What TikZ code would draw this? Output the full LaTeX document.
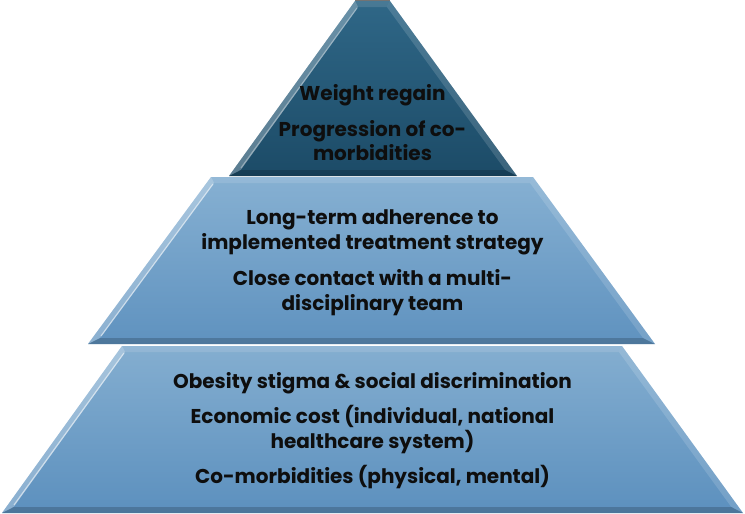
\documentclass[tikz,border=0pt]{standalone}
\usepackage{fontspec}
\setmainfont{Poppins}
\usetikzlibrary{calc}
\definecolor{topA}{HTML}{2F6787}
\definecolor{topB}{HTML}{1C4B67}
\definecolor{midA}{HTML}{86B0D2}
\definecolor{midB}{HTML}{5F92BF}
\definecolor{botA}{HTML}{84AED0}
\definecolor{botB}{HTML}{5C90BE}
\definecolor{txt}{HTML}{0E0E0E}
\tikzset{
  lbl/.style={anchor=base, text=txt, font=\bfseries\fontsize{20}{24}\selectfont, inner sep=0pt},
  lightband/.style={fill=white, fill opacity=0.28, draw=none},
  rightband/.style={fill=white, fill opacity=0.14, draw=none},
  darkband/.style={fill=black, fill opacity=0.18, draw=none},
  topband/.style={fill=white, fill opacity=0.12, draw=none},
  shine/.style={draw=white, draw opacity=0.55, line width=1.2pt}
}
\begin{document}
\begin{tikzpicture}[x=1pt,y=-1pt]
\useasboundingbox (0,0) rectangle (745,514);
% ---------- bottom tier ----------
\shade[top color=botA, bottom color=botB] (122,346) -- (622,346) -- (743,513) -- (2,513) -- cycle;
\fill[lightband] (122,346) -- (125.1,352) -- (13.7,507) -- (2,513) -- cycle;
\fill[rightband] (622,346) -- (743,513) -- (731.3,507) -- (618.9,352) -- cycle;
\fill[darkband] (2,513) -- (743,513) -- (731.3,507) -- (13.7,507) -- cycle;
\fill[topband] (122,346) -- (622,346) -- (618.9,352) -- (125.1,352) -- cycle;
\draw[shine] (124,353) -- (14,505);
% ---------- middle tier ----------
\shade[top color=midA, bottom color=midB] (211,177) -- (533,177) -- (655,344) -- (88,344) -- cycle;
\fill[lightband] (211,177) -- (214,183) -- (100,338) -- (88,344) -- cycle;
\fill[rightband] (533,177) -- (655,344) -- (643,338) -- (530,183) -- cycle;
\fill[darkband] (88,344) -- (655,344) -- (643,338) -- (100,338) -- cycle;
\fill[topband] (211,177) -- (533,177) -- (530,183) -- (214,183) -- cycle;
\draw[shine] (213,184) -- (101,336);
% ---------- top tier ----------
\shade[top color=topA, bottom color=topB] (355,1) -- (390,1) -- (517,176) -- (229,176) -- cycle;
\fill[lightband] (355,1) -- (358.1,7) -- (240.7,170) -- (229,176) -- cycle;
\fill[rightband] (390,1) -- (517,176) -- (505.3,170) -- (386.9,7) -- cycle;
\fill[darkband] (229,176) -- (517,176) -- (505.3,170) -- (240.7,170) -- cycle;
\fill[topband] (355,1) -- (390,1) -- (386.9,7) -- (358.1,7) -- cycle;
\draw[shine, draw opacity=0.35] (357,8) -- (241,168);
\draw[black!55, line width=1pt] (355,0.5) -- (390,0.5);
% ---------- labels ----------
\node[lbl] (t1) at (372.5,100) {Weight regain};
\node[lbl] (t2) at (372.5,136) {Progression of co-};
\node[lbl] (t3) at (372.5,160) {morbidities};
\node[lbl] (m1) at (372.5,224) {Long-term adherence to};
\node[lbl] (m2) at (372.5,249) {implemented treatment strategy};
\node[lbl] (m3) at (372.5,285) {Close contact with a multi-};
\node[lbl] (m4) at (372.5,310) {disciplinary team};
\node[lbl] (b1) at (372.5,388) {Obesity stigma \& social discrimination};
\node[lbl] (b2) at (372.5,423) {Economic cost (individual, national};
\node[lbl] (b3) at (372.5,448) {healthcare system)};
\node[lbl] (b4) at (372.5,483) {Co-morbidities (physical, mental)};
\end{tikzpicture}
\end{document}
